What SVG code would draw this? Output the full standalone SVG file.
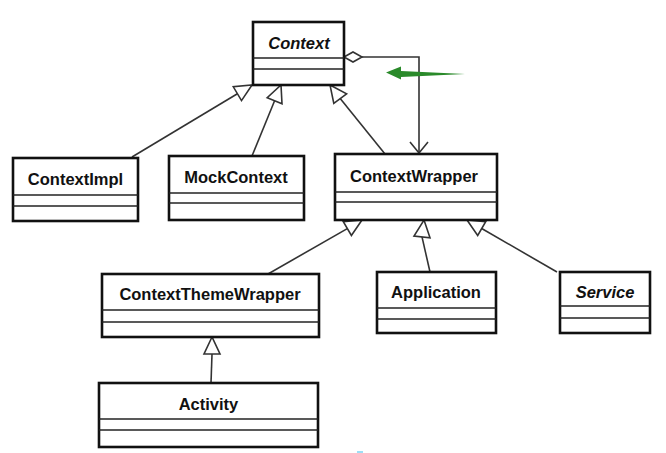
<svg xmlns="http://www.w3.org/2000/svg" width="666" height="453" viewBox="0 0 666 453">
<style>
.box{fill:#fff;stroke:#111;stroke-width:2.6}
.sep{stroke:#222;stroke-width:1.4}
.lbl{font-family:"Liberation Sans",Arial,sans-serif;font-size:16.5px;font-weight:bold;fill:#111;text-anchor:middle}
.it{font-style:italic}
.ln{fill:none;stroke:#333;stroke-width:1.6}
.tri{fill:#fff;stroke:#333;stroke-width:1.6;stroke-linejoin:miter}
</style>
<rect width="666" height="453" fill="#fff"/>
<g id="connectors">
<line class="ln" x1="132" y1="157" x2="237.4" y2="93.7"/>
<polygon class="tri" points="252,85 241.5,100.6 233.3,86.8"/>
<line class="ln" x1="252" y1="156" x2="274.6" y2="100.7"/>
<polygon class="tri" points="281,85 282,103.7 267.2,97.7"/>
<line class="ln" x1="385" y1="154" x2="340.2" y2="98.6"/>
<polygon class="tri" points="330,85 346.6,93.8 333.8,103.4"/>
<line class="ln" x1="268" y1="274" x2="347.3" y2="228.6"/>
<polygon class="tri" points="362,220 351.4,235.5 343.3,221.7"/>
<line class="ln" x1="430" y1="272" x2="422" y2="236.9"/>
<polygon class="tri" points="424,220 430,237.8 414,236"/>
<line class="ln" x1="557" y1="272" x2="481.7" y2="228.5"/>
<polygon class="tri" points="467,220 477.7,235.4 485.7,221.6"/>
<line class="ln" x1="211" y1="383" x2="212" y2="354"/>
<polygon class="tri" points="212,337 204,354 220,354"/>
<polyline class="ln" points="362,57 419,57 419,153"/>
<polygon class="tri" points="344,57 353,52 362,57 353,62"/>
<polyline class="ln" points="410,142 419,153 428,142"/>
<polygon fill="#2a8a2a" points="465,74 401,71 401,66.5 386,72.5 401,79.5 401,77"/>
</g>
<g id="Context">
<rect class="box" x="253" y="22" width="91" height="63"/>
<line class="sep" x1="253" y1="58" x2="344" y2="58"/>
<line class="sep" x1="253" y1="69" x2="344" y2="69"/>
<text class="lbl it" x="299" y="49">Context</text>
</g>
<g id="ContextImpl">
<rect class="box" x="13" y="158" width="125" height="63"/>
<line class="sep" x1="13" y1="195" x2="138" y2="195"/>
<line class="sep" x1="13" y1="206" x2="138" y2="206"/>
<text class="lbl" x="75.5" y="185">ContextImpl</text>
</g>
<g id="MockContext">
<rect class="box" x="169" y="156" width="135" height="64"/>
<line class="sep" x1="169" y1="193" x2="304" y2="193"/>
<line class="sep" x1="169" y1="203" x2="304" y2="203"/>
<text class="lbl" x="236" y="183">MockContext</text>
</g>
<g id="ContextWrapper">
<rect class="box" x="335" y="154" width="162" height="66"/>
<line class="sep" x1="335" y1="192" x2="497" y2="192"/>
<line class="sep" x1="335" y1="202" x2="497" y2="202"/>
<text class="lbl" x="414" y="182">ContextWrapper</text>
</g>
<g id="ContextThemeWrapper">
<rect class="box" x="102" y="274" width="217" height="63"/>
<line class="sep" x1="102" y1="310" x2="319" y2="310"/>
<line class="sep" x1="102" y1="322" x2="319" y2="322"/>
<text class="lbl" x="210" y="300">ContextThemeWrapper</text>
</g>
<g id="Application">
<rect class="box" x="377" y="272" width="119" height="61"/>
<line class="sep" x1="377" y1="308" x2="496" y2="308"/>
<line class="sep" x1="377" y1="319" x2="496" y2="319"/>
<text class="lbl" x="436" y="298">Application</text>
</g>
<g id="Service">
<rect class="box" x="560" y="272" width="90" height="61"/>
<line class="sep" x1="560" y1="306" x2="650" y2="306"/>
<line class="sep" x1="560" y1="318" x2="650" y2="318"/>
<text class="lbl it" x="605" y="298">Service</text>
</g>
<g id="Activity">
<rect class="box" x="99" y="383" width="219" height="64"/>
<line class="sep" x1="99" y1="419" x2="318" y2="419"/>
<line class="sep" x1="99" y1="430" x2="318" y2="430"/>
<text class="lbl" x="208.5" y="410">Activity</text>
</g>
<line x1="357" y1="452" x2="363" y2="452" stroke="#5bc8f0" stroke-width="1.2"/>
</svg>
